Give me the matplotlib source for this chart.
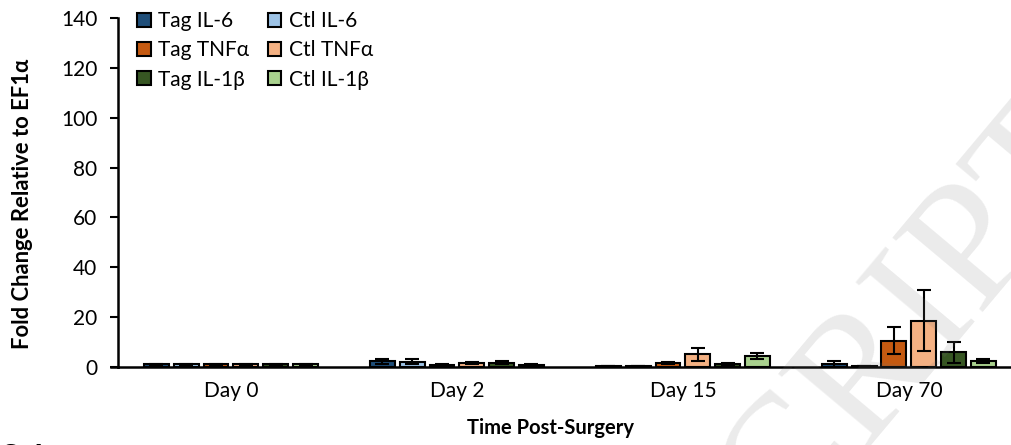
import numpy as np
import matplotlib
matplotlib.use("Agg")
import matplotlib.pyplot as plt

plt.rcParams["font.family"] = ["Lato", "DejaVu Sans"]

days = ["Day 0", "Day 2", "Day 15", "Day 70"]
series = ["Tag IL-6", "Ctl IL-6", "Tag TNF\u03b1", "Ctl TNF\u03b1", "Tag IL-1\u03b2", "Ctl IL-1\u03b2"]
colors = ["#1F4E79", "#9DC3E6", "#C55A11", "#F4B183", "#375623", "#A9D18E"]

# fold change per day, one list per series
tag_il6 = [1.0, 2.3, 0.3, 1.2]
ctl_il6 = [1.0, 2.2, 0.3, 0.3]
tag_tnf = [1.0, 0.8, 1.7, 10.6]
ctl_tnf = [1.0, 1.7, 5.1, 18.6]
tag_il1b = [1.0, 1.8, 1.2, 5.9]
ctl_il1b = [1.0, 0.8, 4.3, 2.5]

err_tag_il6 = [0.2, 0.9, 0.1, 1.3]
err_ctl_il6 = [0.2, 1.0, 0.1, 0.1]
err_tag_tnf = [0.2, 0.3, 0.4, 5.3]
err_ctl_tnf = [0.2, 0.4, 2.5, 12.3]
err_tag_il1b = [0.2, 0.5, 0.3, 4.3]
err_ctl_il1b = [0.2, 0.3, 1.2, 0.9]

values = [tag_il6, ctl_il6, tag_tnf, ctl_tnf, tag_il1b, ctl_il1b]
errors = [err_tag_il6, err_ctl_il6, err_tag_tnf, err_ctl_tnf, err_tag_il1b, err_ctl_il1b]

fig = plt.figure(figsize=(10.11, 4.45), dpi=100)
ax = fig.add_axes([0.1167, 0.1753, 0.894, 0.7843])

x = np.arange(len(days))
step = 0.132
width = 0.11
handles = []
for k in range(len(series)):
    off = (k - 2.5) * step
    b = ax.bar(x + off, values[k], width, color=colors[k], edgecolor="black",
               linewidth=1.5, label=series[k], zorder=2)
    handles.append(b)
    ax.errorbar(x + off, values[k], yerr=errors[k], fmt="none", ecolor="black",
                elinewidth=1.5, capsize=5, capthick=1.5, zorder=3)

ax.set_xlim(-0.5, 3.5)
ax.set_ylim(0, 140)
ax.set_yticks(np.arange(0, 141, 20))
ax.set_xticks(x)
ax.set_xticklabels(days)
ax.tick_params(axis="y", direction="out", length=6, width=1.5, labelsize=15, pad=9)
ax.tick_params(axis="x", length=0, labelsize=15, pad=10)
for s in ["top", "right"]:
    ax.spines[s].set_visible(False)
for s in ["left", "bottom"]:
    ax.spines[s].set_linewidth(1.8)
# x axis line runs a little past the y axis
ax.plot([-0.53, -0.5], [0, 0], color="black", lw=1.8, clip_on=False, zorder=4)

fig.text(0.022, 0.541, "Fold Change Relative to EF1\u03b1", rotation=90,
         ha="center", va="center", fontsize=15.8, fontweight="bold")
fig.text(0.545, 0.038, "Time Post-Surgery", ha="center", va="center",
         fontsize=14.5, fontweight="bold")

# legend filled row by row: Tag in first column, Ctl in second
order = [0, 2, 4, 1, 3, 5]
ax.legend([handles[i] for i in order], [series[i] for i in order], ncol=2,
          loc="upper left", bbox_to_anchor=(0.021, 1.02), frameon=False,
          fontsize=15, handlelength=0.65, handleheight=0.65, handletextpad=0.35,
          columnspacing=0.9, labelspacing=0.45, borderpad=0, borderaxespad=0)

# partially visible caption of the next panel
fig.text(0.0, -0.03, "Scl", fontsize=24, fontweight="bold", ha="left", va="center")

# watermark
fig.text(1.068, 0.709, "ACCEPTED MANUSCRIPT", family="Liberation Serif", fontsize=128,
         color="#777777", alpha=0.15, rotation=50, ha="right", va="center",
         rotation_mode="anchor", zorder=10)

fig.savefig("out.png", dpi=100)
